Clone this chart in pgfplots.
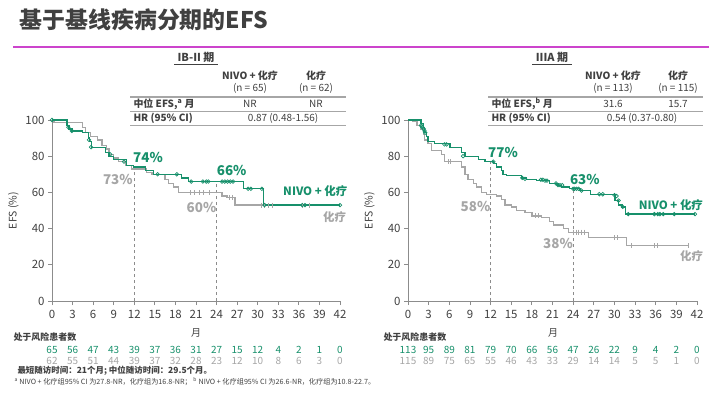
\documentclass[border=0pt]{standalone}
\usepackage{fontspec}
\setmainfont{Noto Sans CJK SC}
\usepackage{pgfplots}
\pgfplotsset{compat=1.18}
\definecolor{nivo}{HTML}{17906B}
\definecolor{chemo}{HTML}{A6A6A6}
\definecolor{txt}{HTML}{404040}
\definecolor{axc}{HTML}{8C8C8C}
\definecolor{mag}{HTML}{CC44CC}

\pgfplotsset{kmaxis/.style={
  scale only axis, width=288bp, height=181bp,
  xmin=0, xmax=42, ymin=0, ymax=100,
  axis lines*=left, xtick={0,3,...,42}, ytick={0,20,...,100},
  tick align=outside, major tick length=4bp,
  axis line style={draw=axc, line width=0.8pt},
  tick style={draw=axc, line width=0.8pt},
  ticklabel style={font=\fontsize{11.5}{12}\selectfont, text=txt},
  xticklabel style={yshift=-2bp},
  /pgf/number format/assume math mode=true,
  ylabel={EFS (\%)}, ylabel style={font=\fontsize{10.5}{12}\selectfont, text=txt},
  clip=false,
  km/.style={const plot, line width=1.3pt, mark=none},
}}

\begin{document}
\begin{tikzpicture}
\begin{scope}[x=1bp,y=-1bp]
\path[use as bounding box] (0,0) rectangle (709,393);
% title
\node[anchor=west, font=\bfseries\fontsize{23}{25}\selectfont, text=txt] at (16,20) {基于基线疾病分期的EFS};
\draw[mag, line width=1.5bp] (13,47) -- (709,47);
\end{scope}

% ---------------- LEFT PANEL ----------------
\begin{axis}[kmaxis, at={(52bp,-301bp)}, anchor=south west]
\draw[axc, dashed, thin] (axis cs:12,0) -- (axis cs:12,74);
\draw[axc, dashed, thin] (axis cs:24,0) -- (axis cs:24,66);
% chemo
\addplot[km, chemo] coordinates {(0,100)(0.3,98.5)(4.4,96)(4.9,93)(5.6,91)(6.6,89)(7.3,86)(7.9,84)(8.3,81)(9.0,79)(9.7,77)(10.7,75)(11.6,73)(13.8,71)(14.6,70)(16.5,67)(17,65)(17.7,63)(18.4,60)(24.8,58)(25.5,57)(26.7,53)(41.8,53)};
\addplot[only marks, chemo, mark=|, mark size=2.5pt, mark options={line width=0.7pt}] coordinates {(20.2,60)(20.8,60)(21.5,60)(22,60)(23,60)(25.9,57)(26.3,57)(30.5,53)(31,53)(31.5,53)(32.2,53)(36.5,53)(37.5,53)};
% nivo
\addplot[km, nivo] coordinates {(0,100)(2.2,97)(2.5,95)(2.9,94)(4.4,93)(5.3,90)(5.5,88)(5.8,85)(7.8,82)(8.3,80)(9.0,78)(10.9,75)(11.9,74)(13.6,72)(14.8,70)(18.9,68)(19.9,66)(27.9,62)(30.8,53)(42,53)};
\addplot[only marks, nivo, mark=o, mark size=1.8pt, mark options={line width=0.7pt}] coordinates {(0,100)(2.4,96)(2.9,94)(5.4,89)(5.7,85)(8.5,81)(10.5,77)(15.4,70)(18.2,70)(20.3,66)(22.0,66)(22.5,66)(22.8,66)(24.8,66)(25.2,66)(25.6,66)(26,66)(26.4,66)(28.6,62)(29.0,62)(30.6,62)(31.0,53)(36.5,53)(36.9,53)(42,53)};
\node[nivo, font=\bfseries\fontsize{13.5}{14}\selectfont] at (axis cs:14.0,79.5) {74\%};
\node[nivo, font=\bfseries\fontsize{13.5}{14}\selectfont] at (axis cs:26.2,72) {66\%};
\node[chemo, font=\bfseries\fontsize{13.5}{14}\selectfont] at (axis cs:9.6,67) {73\%};
\node[chemo, font=\bfseries\fontsize{13.5}{14}\selectfont] at (axis cs:21.8,51.5) {60\%};
\node[nivo, font=\bfseries\fontsize{11.5}{12}\selectfont] at (axis cs:38.4,60.5) {NIVO + 化疗};
\node[chemo, font=\bfseries\fontsize{11.5}{12}\selectfont] at (axis cs:41.2,46.5) {化疗};
\end{axis}

% ---------------- RIGHT PANEL ----------------
\begin{axis}[kmaxis, at={(408bp,-301bp)}, anchor=south west, width=289bp]
\draw[axc, dashed, thin] (axis cs:12,0) -- (axis cs:12,77);
\draw[axc, dashed, thin] (axis cs:24,0) -- (axis cs:24,62);
% chemo
\addplot[km, chemo] coordinates {(0,100)(0.7,99)(1.3,97)(1.8,95)(2.2,92)(2.4,89)(2.9,87)(3.4,83)(4.9,81)(5.3,77)(7.8,74)(8.3,70)(8.7,67)(9.5,65)(10,63)(10.7,60)(11.4,59)(12.9,58)(13.6,56)(14.1,53)(15,52)(15.8,50)(17,49)(18,47)(19.4,46)(20.6,44)(21.1,42)(22.6,40)(23.3,38)(26.2,35)(31.8,30.5)(40.8,30.5)};
\addplot[only marks, chemo, mark=|, mark size=2.5pt, mark options={line width=0.7pt}] coordinates {(5.8,77)(6.2,77)(18.5,47)(19,47)(24,38)(24.4,38)(24.8,38)(25.2,38)(25.6,38)(30.0,35)(30.4,35)(32.5,30.5)(35.8,30.5)(36.2,30.5)(40.8,30.5)};
% nivo
\addplot[km, nivo] coordinates {(0,100)(1.9,98)(2.2,96)(2.4,93)(2.7,91)(2.9,88)(3.9,87)(6.1,85)(7.8,82)(8.3,80)(10.2,78)(11.2,77)(12.4,76)(12.9,74)(13.6,72)(13.8,70)(14.3,69.5)(16.5,68)(17.2,67)(18.7,66.5)(20.6,65)(21.8,64)(22.3,63)(23.5,62)(25,61)(26.5,59)(30.1,55.5)(30.6,53)(31.1,52)(31.6,48)(41.7,48)};
\addplot[only marks, nivo, mark=o, mark size=1.8pt, mark options={line width=0.7pt}] coordinates {(1.9,97)(2.0,96.5)(2.1,96)(2.3,95)(2.4,94)(2.5,93)(5.3,86.5)(5.6,86.5)(8.0,80)(12.4,77)(16.6,68)(17.0,67.5)(19.3,67)(19.6,67)(19.9,66.5)(20.2,66.5)(21.5,65)(21.8,64)(22.1,64)(22.4,64)(24.0,62)(24.2,62)(24.5,62)(24.8,62)(25.2,61)(27.8,59)(28.3,59)(30.0,58.5)(30.3,58)(30.6,55.5)(31.2,52)(32.0,48)(35.8,48)(36.3,48)(36.6,48)(37.1,48)(38.7,48)(41.7,48)};
\node[nivo, font=\bfseries\fontsize{13.5}{14}\selectfont] at (axis cs:13.8,81.8) {77\%};
\node[nivo, font=\bfseries\fontsize{13.5}{14}\selectfont] at (axis cs:25.7,67) {63\%};
\node[chemo, font=\bfseries\fontsize{13.5}{14}\selectfont] at (axis cs:9.8,52) {58\%};
\node[chemo, font=\bfseries\fontsize{13.5}{14}\selectfont] at (axis cs:21.8,32) {38\%};
\node[nivo, font=\bfseries\fontsize{11.5}{12}\selectfont] at (axis cs:38.2,53) {NIVO + 化疗};
\node[chemo, font=\bfseries\fontsize{11.5}{12}\selectfont] at (axis cs:41.2,25) {化疗};
\end{axis}

\begin{scope}[x=1bp,y=-1bp]
% ---------------- TABLES ----------------
\begin{scope}[every node/.style={text=txt}]
\def\tb{\bfseries\fontsize{10}{11}\selectfont}
\def\tn{\fontsize{10}{11}\selectfont}
% left
\node[font=\bfseries\fontsize{11}{12}\selectfont] (t1) at (196,57) {IB-II 期};
\draw[txt, line width=0.8bp] ([yshift=1bp]t1.south west) -- ([yshift=1bp]t1.south east);
\node[font=\tb] at (250,76) {NIVO + 化疗};
\node[font=\tn] at (250,88) {(n = 65)};
\node[font=\tb] at (316,76) {化疗};
\node[font=\tn] at (316,88) {(n = 62)};
\draw[chemo, line width=1.2bp] (130,97) -- (346,97);
\draw[chemo, line width=1bp] (130,111) -- (346,111);
\draw[chemo, line width=1bp] (130,125) -- (346,125);
\node[font=\tb, anchor=west] at (130,104) {中位 EFS,\textsuperscript{a} 月};
\node[font=\tn] at (250,104) {NR};
\node[font=\tn] at (316,104) {NR};
\node[font=\tb, anchor=west] at (130,118) {HR (95\% CI)};
\node[font=\tn] at (283,118) {0.87 (0.48-1.56)};
% right
\node[font=\bfseries\fontsize{11}{12}\selectfont] (t2) at (552,57) {IIIA 期};
\draw[txt, line width=0.8bp] ([yshift=1bp]t2.south west) -- ([yshift=1bp]t2.south east);
\node[font=\tb] at (613,76) {NIVO + 化疗};
\node[font=\tn] at (613,88) {(n = 113)};
\node[font=\tb] at (678,76) {化疗};
\node[font=\tn] at (678,88) {(n = 115)};
\draw[chemo, line width=1.2bp] (488,97) -- (703,97);
\draw[chemo, line width=1bp] (488,111) -- (703,111);
\draw[chemo, line width=1bp] (488,125) -- (703,125);
\node[font=\tb, anchor=west] at (488,104) {中位 EFS,\textsuperscript{b} 月};
\node[font=\tn] at (613,104) {31.6};
\node[font=\tn] at (678,104) {15.7};
\node[font=\tb, anchor=west] at (488,118) {HR (95\% CI)};
\node[font=\tn] at (642,118) {0.54 (0.37-0.80)};
\end{scope}

% ---------------- RISK TABLES ----------------
\def\rf{\fontsize{10}{11}\selectfont}
\node[anchor=west, font=\bfseries\fontsize{9}{10}\selectfont, text=txt] at (10,337) {处于风险患者数};
\node[font=\fontsize{10}{11}\selectfont, text=txt] at (196,333) {月};
\foreach \v [count=\i from 0] in {65,56,47,43,39,37,36,31,27,15,12,4,2,1,0}
  \node[font=\rf, text=nivo] at (52+\i*20.571,350) {\v};
\foreach \v [count=\i from 0] in {62,55,51,44,39,37,32,28,23,12,10,8,6,3,0}
  \node[font=\rf, text=chemo] at (52+\i*20.571,361) {\v};
\node[anchor=west, font=\bfseries\fontsize{9}{10}\selectfont, text=txt] at (380,337) {处于风险患者数};
\node[font=\fontsize{10}{11}\selectfont, text=txt] at (553,333) {月};
\foreach \v [count=\i from 0] in {113,95,89,81,79,70,66,56,47,26,22,9,4,2,0}
  \node[font=\rf, text=nivo] at (408+\i*20.643,350) {\v};
\foreach \v [count=\i from 0] in {115,89,75,65,55,46,43,33,29,14,14,5,5,1,0}
  \node[font=\rf, text=chemo] at (408+\i*20.643,361) {\v};

% footnotes
\node[anchor=west, font=\bfseries\fontsize{8.5}{10}\selectfont, text=txt] at (14,371) {最短随访时间：21个月; 中位随访时间：29.5个月。};
\node[anchor=west, font=\fontsize{7.2}{8}\selectfont, text=txt] at (11,382) {\textsuperscript{a} NIVO + 化疗组95\% CI 为27.8-NR，化疗组为16.8-NR； \textsuperscript{b} NIVO + 化疗组95\% CI 为26.6-NR，化疗组为10.8-22.7。};
\end{scope}
\end{tikzpicture}
\end{document}
